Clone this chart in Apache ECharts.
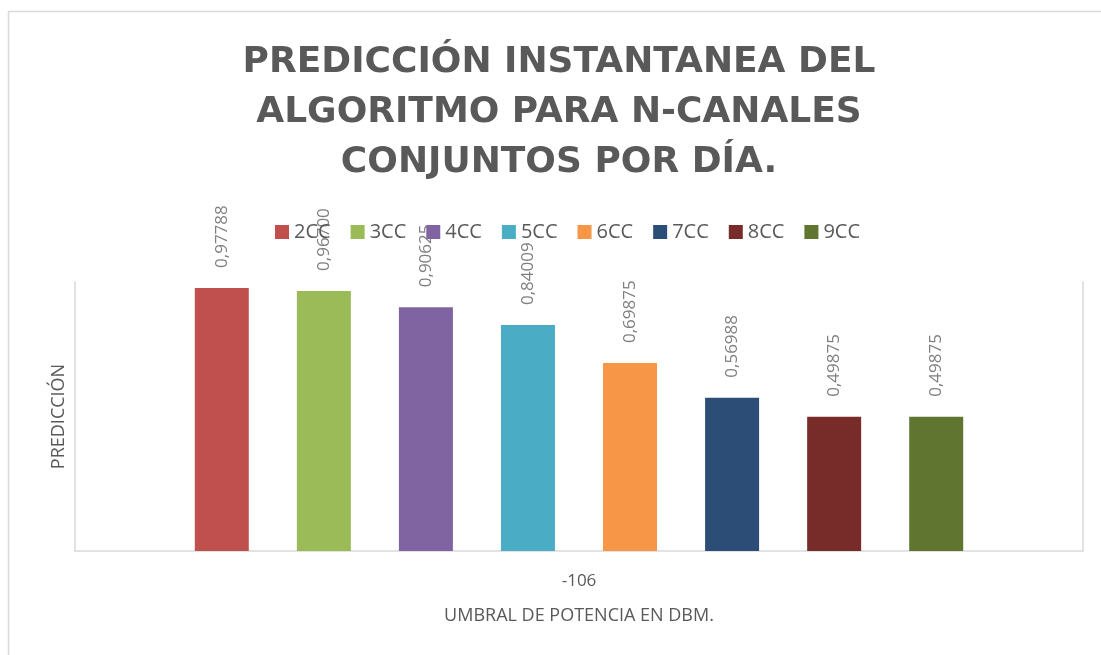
<!DOCTYPE html>
<html>
<head>
<meta charset="utf-8">
<script src="https://cdn.jsdelivr.net/npm/echarts@6/dist/echarts.min.js"></script>
<style>html,body{margin:0;padding:0;background:#fff;}#c{width:1101px;height:655px;}</style>
</head>
<body>
<div id="c"></div>
<script>
const categories = ['-106'];
const seriesNames = ['2CC','3CC','4CC','5CC','6CC','7CC','8CC','9CC'];
const values = [0.97788, 0.96700, 0.90625, 0.84009, 0.69875, 0.56988, 0.49875, 0.49875];
const colors = ['#C0504D','#9BBB59','#8064A2','#4BACC6','#F79646','#2C4D75','#772C2A','#5F7530'];
const titleText = 'PREDICCIÓN INSTANTANEA DEL\nALGORITMO PARA N-CANALES\nCONJUNTOS POR DÍA.';
const xName = 'UMBRAL DE POTENCIA EN DBM.';
const yName = 'PREDICCIÓN';

const chart = echarts.init(document.getElementById('c'), null, {renderer:'canvas'});
const series = seriesNames.map((n,i)=>({
  name:n, type:'bar', data:[values[i]], barWidth:54, barGap:'89%',
  itemStyle:{color:colors[i]},
  label:{show:true, position:'top', rotate:90, distance:20, align:'left', verticalAlign:'middle',
    color:'#7f7f7f', fontSize:17, fontFamily:'Open Sans',
    formatter:p=>p.value.toFixed(5).replace('.',',')}
}));
chart.setOption({
  animation:false,
  backgroundColor:'#fff',
  graphic:[{type:'rect', shape:{x:8.5,y:11.5,width:1300,height:1000}, style:{fill:'none', stroke:'#d9d9d9', lineWidth:1.5}, silent:true}],
  title:{text:titleText, left:554, textAlign:'center', top:33, textStyle:{fontFamily:'DejaVu Sans', fontWeight:'bold', fontSize:36, color:'#595959', lineHeight:50}},
  legend:{data:seriesNames, top:217, left:270, itemWidth:14, itemHeight:14, itemGap:20, icon:'rect',
    textStyle:{fontSize:20, color:'#595959', fontFamily:'Open Sans', padding:[0,0,0,0]}},
  grid:{left:75, right:18, top:282, bottom:104},
  xAxis:{type:'category', data:categories, axisTick:{show:false},
    axisLine:{lineStyle:{color:'#d9d9d9', width:1.5}},
    axisLabel:{color:'#595959', fontSize:17, fontFamily:'Open Sans', margin:22},
    name:xName, nameLocation:'middle', nameGap:56, nameTextStyle:{color:'#595959', fontSize:18, fontFamily:'Open Sans'}},
  yAxis:[{type:'value', min:0, max:1, splitLine:{show:false}, axisLabel:{show:false}, axisTick:{show:false},
    axisLine:{show:true, lineStyle:{color:'#d9d9d9', width:1.5}},
    name:yName, nameLocation:'middle', nameGap:7, nameRotate:90, nameTextStyle:{color:'#595959', fontSize:18, fontFamily:'Open Sans'}},
   {type:'value', min:0, max:1, position:'right', splitLine:{show:false}, axisLabel:{show:false}, axisTick:{show:false},
    axisLine:{show:true, lineStyle:{color:'#d9d9d9', width:1.5}}}],
  series:series
});
</script>
</body>
</html>
